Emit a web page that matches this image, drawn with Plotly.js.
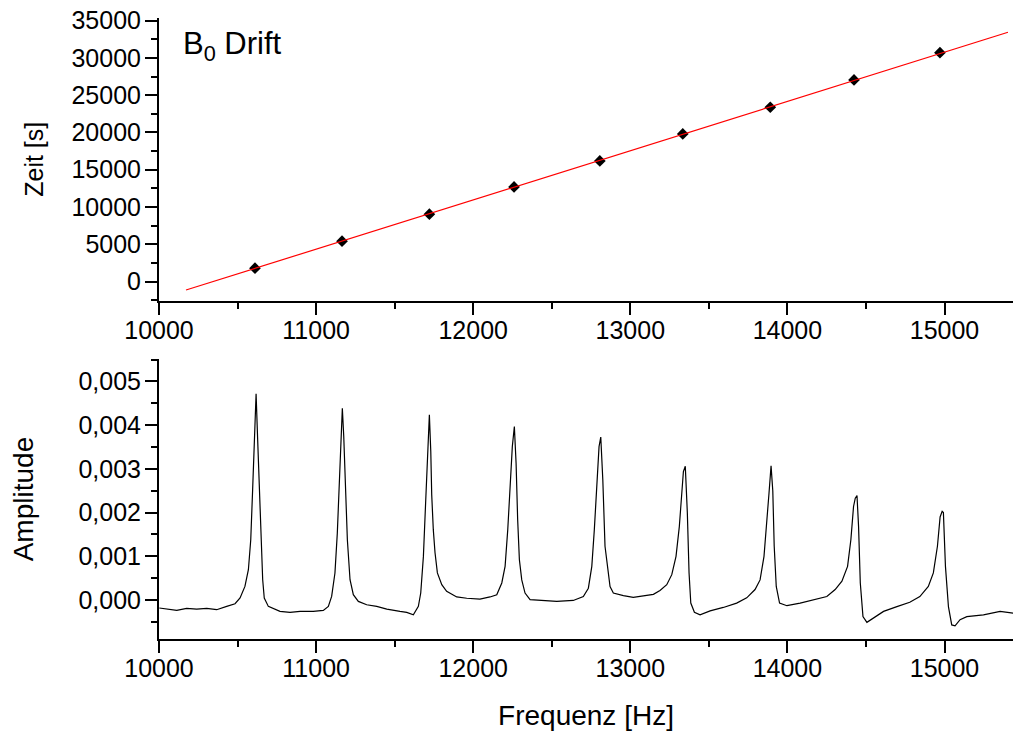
<!DOCTYPE html>
<html>
<head>
<meta charset="utf-8">
<script src="https://cdn.plot.ly/plotly-3.0.1.min.js"></script>
<style>html,body{margin:0;padding:0;background:#fff;}#chart{width:1013px;height:733px;}</style>
</head>
<body>
<div id="chart"></div>
<script>
// Top panel: B0 drift measurement points (frequency vs time)
const driftFreq = [10611, 11165, 11721, 12260, 12806, 13334, 13891, 14424, 14971];
const driftTime = [1796, 5416, 9035, 12694, 16180, 19799, 23378, 27037, 30697];
// Linear fit line endpoints
const fitFreq = [10172, 15404];
const fitTime = [-1126, 33432];

// Bottom panel: spectrum
const specFreq = [10002, 10060, 10113, 10176, 10240, 10304, 10367, 10431, 10484, 10516, 10547, 10569, 10584, 10596, 10607, 10618, 10628, 10639, 10649, 10660, 10670, 10696, 10770, 10834, 10898, 10982, 11046, 11078, 11099, 11120, 11135, 11148, 11159, 11167, 11176, 11186, 11199, 11216, 11237, 11269, 11322, 11386, 11450, 11534, 11577, 11619, 11651, 11666, 11683, 11698, 11710, 11721, 11730, 11736, 11746, 11757, 11772, 11800, 11831, 11895, 11959, 12043, 12107, 12150, 12182, 12203, 12220, 12234, 12249, 12262, 12273, 12283, 12294, 12309, 12330, 12362, 12446, 12532, 12637, 12701, 12733, 12755, 12771, 12786, 12801, 12812, 12825, 12839, 12860, 12871, 12892, 12956, 13019, 13083, 13147, 13189, 13232, 13264, 13291, 13312, 13327, 13338, 13350, 13363, 13374, 13385, 13408, 13444, 13508, 13592, 13677, 13741, 13794, 13826, 13851, 13868, 13883, 13896, 13907, 13916, 13929, 13950, 13997, 14081, 14166, 14251, 14304, 14347, 14383, 14404, 14421, 14432, 14443, 14453, 14464, 14481, 14506, 14549, 14612, 14697, 14779, 14843, 14897, 14929, 14955, 14972, 14985, 14993, 15006, 15025, 15046, 15067, 15099, 15142, 15248, 15354, 15437];
const specAmp = [-0.000183, -0.00021, -0.000238, -0.000192, -0.00021, -0.000192, -0.000222, -0.000146, -0.000085, 0.000046, 0.000311, 0.000693, 0.00138, 0.00252, 0.00367, 0.00472, 0.00367, 0.00252, 0.00138, 0.000465, 0.000046, -0.000146, -0.00026, -0.000283, -0.00026, -0.00026, -0.000238, -0.000146, 0.000083, 0.000618, 0.00153, 0.00268, 0.00382, 0.00439, 0.00374, 0.00252, 0.00138, 0.000465, 0.000121, -0.000032, -0.000108, -0.000146, -0.000207, -0.00026, -0.000283, -0.000336, -0.000146, 0.00016, 0.000998, 0.0023, 0.00351, 0.00424, 0.0034, 0.0024, 0.00161, 0.00108, 0.00062, 0.00035, 0.0002, 0.00007, 0.00004, 0.00002, 0.00007, 0.00012, 0.00039, 0.00077, 0.00161, 0.00252, 0.00351, 0.00397, 0.00313, 0.00184, 0.00092, 0.00046, 0.00016, 0.00001, -0.00001, -0.00003, -0.00001, 0.00008, 0.00027, 0.00077, 0.00161, 0.0026, 0.00351, 0.00373, 0.00275, 0.00123, 0.00054, 0.00031, 0.00016, 0.0001, 0.00006, 0.0001, 0.00013, 0.00022, 0.00035, 0.00058, 0.001, 0.00168, 0.00252, 0.00294, 0.00306, 0.002, 0.00062, -0.00007, -0.00028, -0.00034, -0.00025, -0.00017, -0.00007, 0.00005, 0.00024, 0.00046, 0.001, 0.00168, 0.00245, 0.00307, 0.0025, 0.00123, 0.00031, -0.00007, -0.00013, -0.00007, 0.00001, 0.00008, 0.00024, 0.00043, 0.00077, 0.00138, 0.00214, 0.00233, 0.00239, 0.00168, 0.00039, -0.00038, -0.00051, -0.00041, -0.00026, -0.00015, -0.00005, 0.00008, 0.00031, 0.00062, 0.00123, 0.0019, 0.00203, 0.002, 0.00077, -0.00015, -0.00057, -0.00059, -0.00045, -0.00038, -0.00034, -0.00026, -0.0003];

// Tick labels
const timeTicks = [0, 5000, 10000, 15000, 20000, 25000, 30000, 35000];
const timeTickLabels = ['0', '5000', '10000', '15000', '20000', '25000', '30000', '35000'];
const freqTicks = [10000, 11000, 12000, 13000, 14000, 15000];
const freqTickLabels = ['10000', '11000', '12000', '13000', '14000', '15000'];
const ampTicks = [0, 0.001, 0.002, 0.003, 0.004, 0.005];
const ampTickLabels = ['0,000', '0,001', '0,002', '0,003', '0,004', '0,005'];

const FONT = '"Liberation Sans", Arial, sans-serif';

const traces = [
  {x: driftFreq, y: driftTime, xaxis: 'x', yaxis: 'y', type: 'scatter', mode: 'markers',
   marker: {symbol: 'diamond', size: 9, color: '#000000', line: {width: 0}}, showlegend: false},
  {x: fitFreq, y: fitTime, xaxis: 'x', yaxis: 'y', type: 'scatter', mode: 'lines',
   line: {color: '#ff0000', width: 1.2}, showlegend: false},
  {x: specFreq, y: specAmp, xaxis: 'x2', yaxis: 'y2', type: 'scatter', mode: 'lines',
   line: {color: '#000000', width: 1.2}, showlegend: false}
];

const axisCommon = {
  showline: true, linewidth: 2, linecolor: '#000', showgrid: false, zeroline: false,
  ticks: 'outside', ticklen: 12, tickwidth: 2, tickcolor: '#000',
  tickfont: {family: FONT, size: 25, color: '#000'}
};

const minorX = {tick0: 0, dtick: 500, ticks: 'outside', ticklen: 6, tickwidth: 2, tickcolor: '#000'};

const layout = {
  width: 1013, height: 733,
  margin: {l: 159, r: 0, t: 18, b: 94, pad: 0},
  paper_bgcolor: '#fff', plot_bgcolor: '#fff',
  font: {family: FONT, color: '#000'},
  showlegend: false,
  xaxis: Object.assign({}, axisCommon, {
    domain: [0, 1], anchor: 'y', range: [10000, 15436],
    tickvals: freqTicks, ticktext: freqTickLabels, ticklabelstandoff: -6,
    minor: minorX
  }),
  yaxis: Object.assign({}, axisCommon, {
    domain: [0.545, 1], anchor: 'x', range: [-2547, 35349],
    tickvals: timeTicks, ticktext: timeTickLabels, ticklabelstandoff: -1,
    minor: {tick0: 0, dtick: 2500, ticks: 'outside', ticklen: 6, tickwidth: 2, tickcolor: '#000'},
    title: {text: 'Zeit [s]', font: {family: FONT, size: 25, color: '#000'}, standoff: 21}
  }),
  xaxis2: Object.assign({}, axisCommon, {
    domain: [0, 1], anchor: 'y2', range: [10000, 15436],
    tickvals: freqTicks, ticktext: freqTickLabels, ticklabelstandoff: -6,
    minor: minorX,
    title: {text: 'Frequenz [Hz]', font: {family: FONT, size: 28, color: '#000'}, standoff: 24}
  }),
  yaxis2: Object.assign({}, axisCommon, {
    domain: [0, 0.4507], anchor: 'x2', range: [-0.000892, 0.005512],
    tickvals: ampTicks, ticktext: ampTickLabels, ticklabelstandoff: -1,
    minor: {tick0: 0, dtick: 0.0005, ticks: 'outside', ticklen: 6, tickwidth: 2, tickcolor: '#000'},
    title: {text: 'Amplitude', font: {family: FONT, size: 28, color: '#000'}, standoff: 37}
  }),
  annotations: [
    {text: 'B<sub>0</sub> Drift', xref: 'paper', yref: 'paper', x: 0.026, y: 0.955,
     xanchor: 'left', yanchor: 'middle', showarrow: false,
     font: {family: FONT, size: 31, color: '#000'}}
  ]
};

Plotly.newPlot('chart', traces, layout, {displayModeBar: false, staticPlot: true});
</script>
</body>
</html>
